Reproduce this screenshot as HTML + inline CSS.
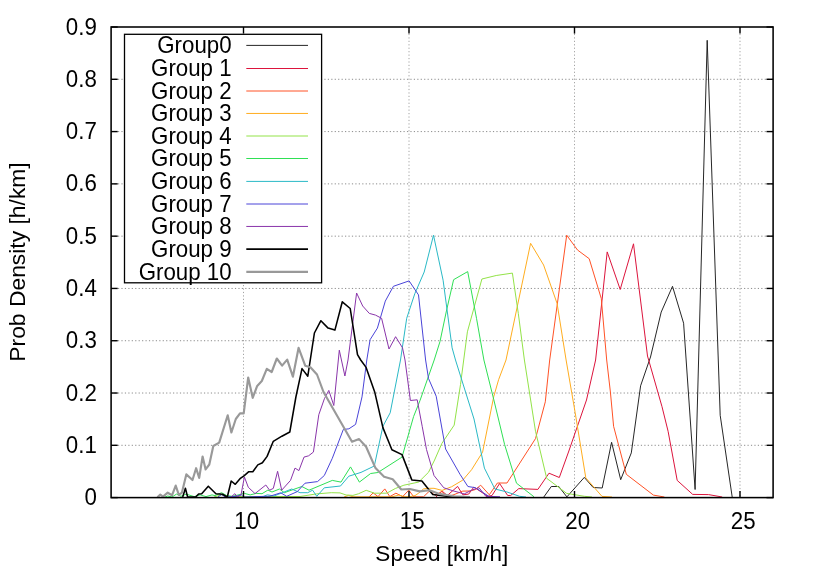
<!DOCTYPE html>
<html><head><meta charset="utf-8"><title>plot</title>
<style>
html,body{margin:0;padding:0;background:#fff;}
svg{display:block;will-change:transform;}
text{font-family:"Liberation Sans",sans-serif;font-size:22.3px;fill:#000;}
</style></head><body>
<svg width="814" height="570" viewBox="0 0 814 570">
<rect x="0" y="0" width="814" height="570" fill="#fff"/>
<g stroke="#8c8c8c" stroke-width="1" stroke-dasharray="1.2,2.24" fill="none"><line x1="111.1" y1="445.31" x2="773.1" y2="445.31"/><line x1="111.1" y1="393.02" x2="773.1" y2="393.02"/><line x1="111.1" y1="340.73" x2="773.1" y2="340.73"/><line x1="111.1" y1="288.44" x2="773.1" y2="288.44"/><line x1="111.1" y1="236.16" x2="773.1" y2="236.16"/><line x1="111.1" y1="183.87" x2="773.1" y2="183.87"/><line x1="111.1" y1="131.58" x2="773.1" y2="131.58"/><line x1="111.1" y1="79.29" x2="773.1" y2="79.29"/></g>
<g stroke="#999" stroke-width="0.9" stroke-dasharray="1.2,2.24" fill="none"><line x1="243.50" y1="27.0" x2="243.50" y2="497.6"/><line x1="409.00" y1="27.0" x2="409.00" y2="497.6"/><line x1="574.50" y1="27.0" x2="574.50" y2="497.6"/><line x1="740.00" y1="27.0" x2="740.00" y2="497.6"/></g>
<g fill="none" stroke-linejoin="round" stroke-linecap="butt">
<polyline points="543.8,497.0 551.3,486.5 558.8,486.5 566.9,496.9 584.3,477.4 593.2,487.5 602.2,488.0 611.6,442.3 620.7,479.7 631.3,452.9 640.6,385.8 650.5,357.0 661.2,312.1 672.5,286.3 683.6,323.2 695.1,489.5 707.2,40.3 720.2,415.3 732.2,497.0" stroke="#1a1a1a" stroke-width="0.95"/>
<polyline points="436.0,497.0 442.1,491.1 447.3,495.5 457.6,486.4 462.8,494.8 468.7,494.1 473.8,487.1 479.0,490.5 487.8,496.3 492.0,495.5 499.6,483.5 507.7,495.5 510.7,495.5 518.8,488.6 537.9,489.4 549.0,473.2 559.3,477.5 568.5,452.0 577.5,426.0 586.5,400.0 595.6,360.0 607.2,251.9 620.2,289.5 633.5,243.8 647.5,356.0 662.0,406.7 668.1,431.3 677.2,480.4 692.7,494.4 708.6,494.6 722.2,497.0" stroke="#dc143c" stroke-width="1"/>
<polyline points="368.9,497.0 373.2,492.9 378.0,496.6 384.8,488.9 389.8,496.6 395.9,493.2 402.7,496.6 408.8,490.1 413.7,496.8 423.5,496.8 430.0,490.5 435.0,495.5 441.8,491.4 446.7,496.5 453.0,495.0 462.8,491.1 470.0,491.0 475.3,489.6 480.7,485.2 489.3,494.8 497.4,483.0 507.0,483.0 535.5,438.6 545.3,401.8 549.7,360.0 566.7,235.2 577.5,250.0 589.2,258.7 601.3,298.6 606.7,360.0 610.4,392.0 613.6,426.3 626.3,474.3 653.4,495.1 664.4,497.0" stroke="#ff5226" stroke-width="1"/>
<polyline points="344.0,497.0 348.6,495.4 353.0,496.8 392.0,496.8 399.0,495.0 404.0,496.7 410.0,496.7 415.0,495.6 418.6,493.2 423.5,488.9 428.5,488.3 434.0,488.3 442.1,490.4 451.7,486.7 462.8,480.1 471.6,469.7 482.6,452.1 493.7,396.8 498.6,379.7 506.0,360.0 530.6,243.3 543.6,265.0 557.1,303.5 566.1,360.0 575.2,412.8 585.8,477.9 602.0,496.4 612.0,497.0" stroke="#ffad1f" stroke-width="1"/>
<polyline points="214.0,497.0 221.0,494.8 228.0,496.5 300.0,496.5 316.5,493.9 331.3,492.7 340.0,492.9 346.1,495.0 352.9,495.4 358.4,493.8 366.2,490.3 374.4,493.2 386.7,493.2 395.3,488.5 403.9,485.2 418.6,482.1 428.5,472.3 434.6,460.0 441.8,443.5 454.2,425.1 460.5,384.6 463.7,360.0 467.4,331.8 481.9,279.0 496.2,275.5 512.4,273.1 518.3,313.4 524.4,360.0 535.5,431.2 546.7,478.3 566.7,493.4 584.4,496.3 592.0,497.0" stroke="#93e348" stroke-width="1"/>
<polyline points="165.0,497.0 167.7,496.0 172.0,497.0 176.5,494.1 181.0,496.3 186.1,494.1 194.2,496.6 200.1,494.9 206.0,496.6 212.0,494.9 215.0,495.6 221.5,492.7 226.7,495.6 232.5,496.3 244.4,493.4 250.2,494.9 256.1,493.4 262.0,493.7 267.9,490.1 272.0,492.0 279.5,489.0 284.3,492.7 301.8,486.5 309.0,490.2 332.3,480.4 341.0,482.1 350.5,466.9 359.4,482.1 370.6,473.5 377.9,472.5 402.0,457.1 413.6,416.5 420.0,400.5 434.2,360.0 440.0,341.5 446.2,312.0 453.6,279.7 467.7,271.6 476.5,318.3 483.9,360.0 493.7,399.3 504.6,444.5 516.5,483.2 534.0,496.8" stroke="#2fe055" stroke-width="1"/>
<polyline points="262.0,497.0 267.4,494.8 274.0,496.0 291.7,489.0 300.0,492.7 307.7,492.7 312.6,490.2 316.8,496.3 324.3,487.8 340.5,486.0 348.8,476.2 361.0,472.4 374.3,466.0 382.9,426.3 390.2,412.8 400.5,360.0 406.7,318.3 414.8,293.7 424.2,272.0 433.5,235.2 443.1,280.2 452.1,347.8 455.5,360.0 474.0,419.0 484.4,468.1 494.9,489.0 506.5,491.8 519.5,496.3 526.0,497.0" stroke="#2ab9c6" stroke-width="1"/>
<polyline points="217.9,497.0 221.6,494.6 225.3,497.0 236.0,496.4 241.3,494.8 243.7,497.0 270.0,496.2 280.7,492.8 286.7,496.3 297.3,491.6 305.0,483.2 317.5,481.6 324.3,475.5 332.3,458.3 343.3,429.5 348.9,428.8 355.6,424.4 362.0,396.9 366.8,360.0 370.1,339.7 377.4,328.1 385.3,301.1 393.4,286.3 409.1,280.9 418.5,294.9 425.6,360.0 428.5,378.5 436.2,396.2 445.6,449.0 460.0,474.3 467.9,486.5 475.3,487.7 488.8,496.3 500.0,497.0" stroke="#4a44d8" stroke-width="1"/>
<polyline points="231.0,497.0 234.9,493.7 237.3,497.0 241.0,494.8 244.4,477.0 248.3,487.3 255.0,493.6 265.8,485.0 269.6,490.2 273.3,488.4 277.6,471.3 281.7,490.2 290.5,480.4 295.0,468.1 298.9,470.6 304.0,457.1 308.6,455.8 313.4,452.1 318.8,414.7 324.4,398.7 328.8,390.4 333.8,405.5 339.3,350.2 344.9,376.0 348.0,360.0 356.6,293.0 362.7,306.0 369.3,313.4 375.5,315.1 381.6,318.3 389.0,349.0 395.6,336.7 402.5,347.8 405.0,360.0 410.4,400.5 417.2,399.8 422.2,426.3 426.5,449.5 434.0,475.5 443.8,487.8 453.0,490.8 464.2,493.9 472.0,490.0 479.0,487.7 486.0,496.5 500.0,497.0" stroke="#8a35aa" stroke-width="1"/>
<polyline points="182.7,497.0 185.4,488.2 187.6,497.0 195.7,497.0 198.6,494.0 201.7,493.8 208.3,486.2 215.9,493.8 222.5,494.3 227.3,497.0 231.2,481.0 235.3,484.3 240.0,478.7 244.0,475.8 248.8,471.7 252.8,471.7 257.8,464.9 262.4,462.8 267.1,456.4 273.3,441.3 281.9,436.2 289.8,432.0 295.9,397.0 302.0,368.6 307.8,376.2 314.4,333.0 320.9,320.7 328.1,328.1 334.9,330.1 342.3,301.8 350.2,308.5 357.5,354.6 360.7,360.0 366.1,367.4 374.7,391.9 382.9,427.6 391.9,449.7 402.0,454.6 411.8,479.9 421.9,480.9 432.8,494.6 446.7,496.3 460.0,497.0" stroke="#000000" stroke-width="1.55"/>
<polyline points="157.4,497.2 160.3,494.6 163.0,496.6 167.7,492.7 172.1,495.2 175.7,485.6 178.9,495.0 181.9,492.7 186.3,474.4 192.5,480.0 196.1,468.2 199.2,477.9 202.6,456.5 205.6,469.4 209.3,464.5 213.3,446.0 219.2,442.6 227.7,415.3 231.4,432.5 235.8,419.0 240.0,413.3 243.7,413.3 248.2,377.5 252.7,397.8 257.2,385.9 261.8,381.0 266.8,368.8 271.7,372.0 276.8,358.5 282.1,365.6 287.2,359.6 292.9,376.7 298.6,347.8 305.2,365.7 310.4,367.3 317.0,374.5 323.5,392.0 352.0,441.7 359.1,439.1 366.1,446.8 375.5,468.1 384.1,476.7 392.7,479.2 401.3,489.5 409.9,489.0 419.7,491.4 429.5,490.2 439.4,493.9 454.1,496.3 470.0,497.0" stroke="#999999" stroke-width="2.15"/>
</g>

<g stroke="#000" stroke-width="1.4" fill="none"><line x1="111.1" y1="497.60" x2="117.69999999999999" y2="497.60"/><line x1="773.1" y1="497.60" x2="766.5" y2="497.60"/><line x1="111.1" y1="445.31" x2="117.69999999999999" y2="445.31"/><line x1="773.1" y1="445.31" x2="766.5" y2="445.31"/><line x1="111.1" y1="393.02" x2="117.69999999999999" y2="393.02"/><line x1="773.1" y1="393.02" x2="766.5" y2="393.02"/><line x1="111.1" y1="340.73" x2="117.69999999999999" y2="340.73"/><line x1="773.1" y1="340.73" x2="766.5" y2="340.73"/><line x1="111.1" y1="288.44" x2="117.69999999999999" y2="288.44"/><line x1="773.1" y1="288.44" x2="766.5" y2="288.44"/><line x1="111.1" y1="236.16" x2="117.69999999999999" y2="236.16"/><line x1="773.1" y1="236.16" x2="766.5" y2="236.16"/><line x1="111.1" y1="183.87" x2="117.69999999999999" y2="183.87"/><line x1="773.1" y1="183.87" x2="766.5" y2="183.87"/><line x1="111.1" y1="131.58" x2="117.69999999999999" y2="131.58"/><line x1="773.1" y1="131.58" x2="766.5" y2="131.58"/><line x1="111.1" y1="79.29" x2="117.69999999999999" y2="79.29"/><line x1="773.1" y1="79.29" x2="766.5" y2="79.29"/><line x1="111.1" y1="27.00" x2="117.69999999999999" y2="27.00"/><line x1="773.1" y1="27.00" x2="766.5" y2="27.00"/><line x1="243.50" y1="27.0" x2="243.50" y2="33.6"/><line x1="243.50" y1="497.6" x2="243.50" y2="491.0"/><line x1="409.00" y1="27.0" x2="409.00" y2="33.6"/><line x1="409.00" y1="497.6" x2="409.00" y2="491.0"/><line x1="574.50" y1="27.0" x2="574.50" y2="33.6"/><line x1="574.50" y1="497.6" x2="574.50" y2="491.0"/><line x1="740.00" y1="27.0" x2="740.00" y2="33.6"/><line x1="740.00" y1="497.6" x2="740.00" y2="491.0"/></g>
<rect x="124.5" y="34.3" width="197.10000000000002" height="248.5" fill="#fff" stroke="#000" stroke-width="1.3"/>
<text transform="translate(231.60,53.10) scale(1,1.075)" text-anchor="end">Group0</text><line x1="246.3" y1="45.40" x2="308.0" y2="45.40" stroke="#1a1a1a" stroke-width="0.95"/>
<text transform="translate(231.60,76.20) scale(1,1.075)" text-anchor="end">Group 1</text><line x1="246.3" y1="68.50" x2="308.0" y2="68.50" stroke="#dc143c" stroke-width="1"/>
<text transform="translate(231.60,98.70) scale(1,1.075)" text-anchor="end">Group 2</text><line x1="246.3" y1="91.00" x2="308.0" y2="91.00" stroke="#ff5226" stroke-width="1"/>
<text transform="translate(231.60,121.15) scale(1,1.075)" text-anchor="end">Group 3</text><line x1="246.3" y1="113.45" x2="308.0" y2="113.45" stroke="#ffad1f" stroke-width="1"/>
<text transform="translate(231.60,143.70) scale(1,1.075)" text-anchor="end">Group 4</text><line x1="246.3" y1="136.00" x2="308.0" y2="136.00" stroke="#93e348" stroke-width="1"/>
<text transform="translate(231.60,166.20) scale(1,1.075)" text-anchor="end">Group 5</text><line x1="246.3" y1="158.50" x2="308.0" y2="158.50" stroke="#2fe055" stroke-width="1"/>
<text transform="translate(231.60,189.10) scale(1,1.075)" text-anchor="end">Group 6</text><line x1="246.3" y1="181.40" x2="308.0" y2="181.40" stroke="#2ab9c6" stroke-width="1"/>
<text transform="translate(231.60,211.70) scale(1,1.075)" text-anchor="end">Group 7</text><line x1="246.3" y1="204.00" x2="308.0" y2="204.00" stroke="#4a44d8" stroke-width="1"/>
<text transform="translate(231.60,234.15) scale(1,1.075)" text-anchor="end">Group 8</text><line x1="246.3" y1="226.45" x2="308.0" y2="226.45" stroke="#8a35aa" stroke-width="1"/>
<text transform="translate(231.60,256.80) scale(1,1.075)" text-anchor="end">Group 9</text><line x1="246.3" y1="249.10" x2="308.0" y2="249.10" stroke="#000000" stroke-width="1.55"/>
<text transform="translate(231.60,279.60) scale(1,1.075)" text-anchor="end">Group 10</text><line x1="246.3" y1="271.90" x2="308.0" y2="271.90" stroke="#999999" stroke-width="2.15"/>
<rect x="111.1" y="27.0" width="662.0" height="470.6" fill="none" stroke="#000" stroke-width="1.55"/>
<text transform="translate(96.80,505.20) scale(1,1.07)" text-anchor="end">0</text><text transform="translate(96.80,452.91) scale(1,1.07)" text-anchor="end">0.1</text><text transform="translate(96.80,400.62) scale(1,1.07)" text-anchor="end">0.2</text><text transform="translate(96.80,348.33) scale(1,1.07)" text-anchor="end">0.3</text><text transform="translate(96.80,296.04) scale(1,1.07)" text-anchor="end">0.4</text><text transform="translate(96.80,243.76) scale(1,1.07)" text-anchor="end">0.5</text><text transform="translate(96.80,191.47) scale(1,1.07)" text-anchor="end">0.6</text><text transform="translate(96.80,139.18) scale(1,1.07)" text-anchor="end">0.7</text><text transform="translate(96.80,86.89) scale(1,1.07)" text-anchor="end">0.8</text><text transform="translate(96.80,34.60) scale(1,1.07)" text-anchor="end">0.9</text><text transform="translate(246.70,528.80) scale(1,1.08)" text-anchor="middle">10</text><text transform="translate(412.20,528.80) scale(1,1.08)" text-anchor="middle">15</text><text transform="translate(577.70,528.80) scale(1,1.08)" text-anchor="middle">20</text><text transform="translate(743.20,528.80) scale(1,1.08)" text-anchor="middle">25</text><text transform="translate(441.80,561.00) scale(1.012,1.025)" text-anchor="middle">Speed [km/h]</text><text transform="translate(25.0,262) rotate(-90) scale(1.025,1)" text-anchor="middle">Prob Density [h/km]</text>
</svg></body></html>
